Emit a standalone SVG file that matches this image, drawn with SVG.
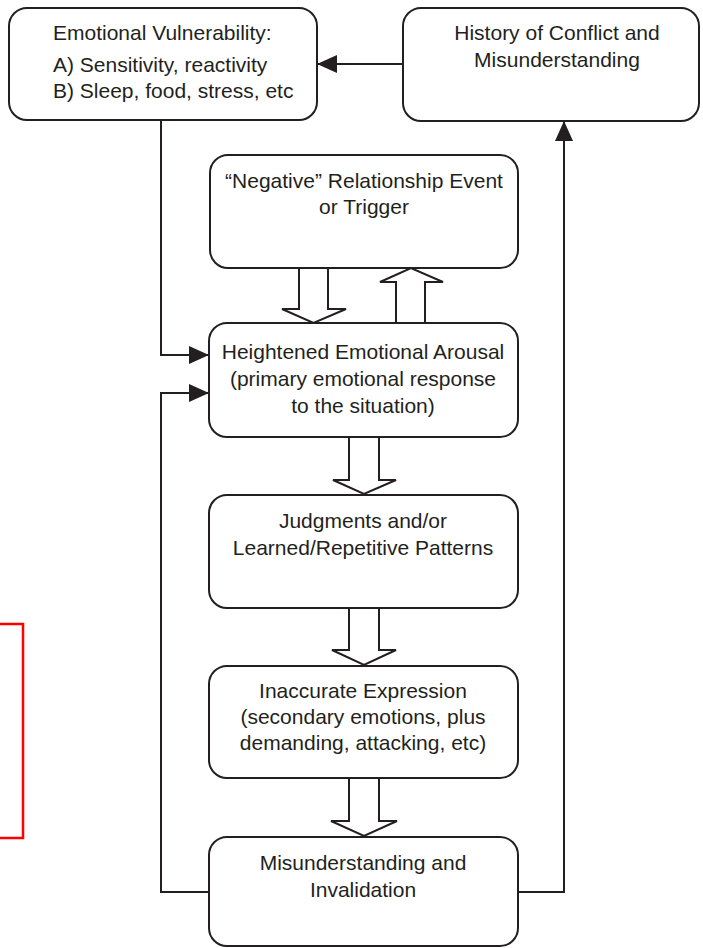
<svg xmlns="http://www.w3.org/2000/svg" width="703" height="948" viewBox="0 0 703 948">
<style>
.box{fill:#fff;stroke:#231f20;stroke-width:2}
.t{font-family:"Liberation Sans",Arial,sans-serif;font-size:21px;fill:#231f20;text-anchor:middle}
.tl{text-anchor:start}
.con{fill:none;stroke:#231f20;stroke-width:2}
.hollow{fill:#fff;stroke:#231f20;stroke-width:2;stroke-linejoin:miter}
</style>
<defs>
<marker id="ah" markerUnits="userSpaceOnUse" markerWidth="20" markerHeight="18" refX="20" refY="9" orient="auto">
<path d="M0,0 L20,9 L0,18 Z" fill="#231f20"/>
</marker>
</defs>
<rect x="-5" y="624" width="28" height="214" fill="none" stroke="#ff0000" stroke-width="2.5"/>
<g id="connectors">
<path class="con" d="M403,64 H317" marker-end="url(#ah)"/>
<path class="con" d="M161,120 V355 H209" marker-end="url(#ah)"/>
<path class="con" d="M209,892 H161 V393 H209" marker-end="url(#ah)"/>
<path class="con" d="M518,892 H564 V121" marker-end="url(#ah)"/>
<polygon class="hollow" points="299,268 299,309 282,309 313.5,323 346,309 328,309 328,268"/>
<polygon class="hollow" points="396,323 396,282 380,282 411,268 443,282 425,282 425,323"/>
<polygon class="hollow" points="349,437 349,480 333,480 364,494 396,480 379,480 379,437"/>
<polygon class="hollow" points="349,608 349,650 332,650 364,665 396,650 379,650 379,608"/>
<polygon class="hollow" points="349,778 349,821 331,821 364,836 397,821 379,821 379,778"/>
</g>
<g id="vulnerability">
<rect class="box" x="9" y="8" width="308" height="112" rx="18"/>
<text class="t tl" x="53" y="40">Emotional Vulnerability:</text>
<text class="t tl" x="53" y="72">A) Sensitivity, reactivity</text>
<text class="t tl" x="53" y="98">B) Sleep, food, stress, etc</text>
</g>
<g id="history">
<rect class="box" x="403" y="8" width="296" height="113" rx="18"/>
<text class="t" x="557" y="40">History of Conflict and</text>
<text class="t" x="557" y="67">Misunderstanding</text>
</g>
<g id="trigger">
<rect class="box" x="210" y="155" width="308" height="113" rx="18"/>
<text class="t" x="364" y="188">“Negative” Relationship Event</text>
<text class="t" x="364" y="214">or Trigger</text>
</g>
<g id="arousal">
<rect class="box" x="209" y="323" width="309" height="114" rx="18"/>
<text class="t" x="363" y="359">Heightened Emotional Arousal</text>
<text class="t" x="363" y="386">(primary emotional response</text>
<text class="t" x="363" y="413">to the situation)</text>
</g>
<g id="judgments">
<rect class="box" x="209" y="495" width="309" height="113" rx="18"/>
<text class="t" x="363" y="528">Judgments and/or</text>
<text class="t" x="363" y="555">Learned/Repetitive Patterns</text>
</g>
<g id="expression">
<rect class="box" x="209" y="666" width="309" height="112" rx="18"/>
<text class="t" x="363" y="698">Inaccurate Expression</text>
<text class="t" x="363" y="724">(secondary emotions, plus</text>
<text class="t" x="363" y="750">demanding, attacking, etc)</text>
</g>
<g id="invalidation">
<rect class="box" x="209" y="837" width="309" height="109" rx="18"/>
<text class="t" x="363" y="870">Misunderstanding and</text>
<text class="t" x="363" y="897">Invalidation</text>
</g>
</svg>
